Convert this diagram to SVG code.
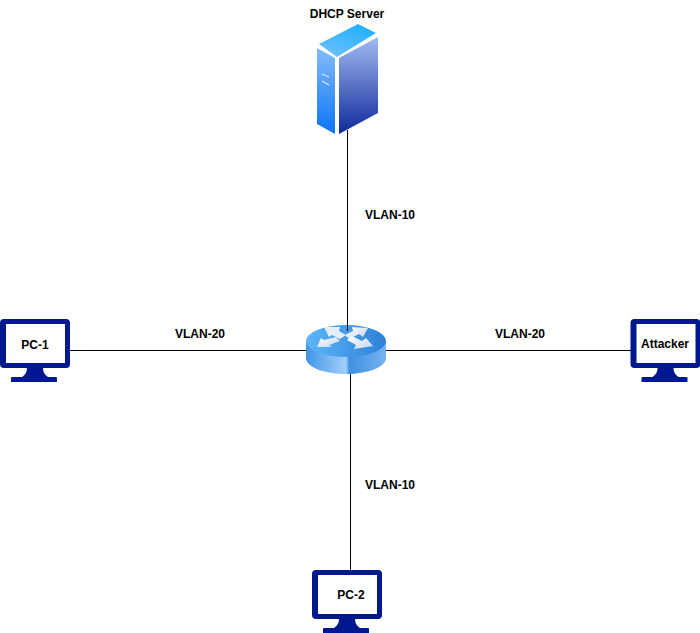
<svg xmlns="http://www.w3.org/2000/svg" width="700" height="633" viewBox="0 0 700 633">
<style>
text{font-family:"Liberation Sans",Arial,sans-serif;font-size:12px;font-weight:bold;fill:#000;text-anchor:middle}
.c{stroke:#000;stroke-width:1;fill:none}
.m{fill:#00188f;fill-rule:evenodd}
</style>
<defs>
<linearGradient id="sl" x1="0" y1="0" x2="0" y2="1"><stop offset="0" stop-color="#85bcfb"/><stop offset="1" stop-color="#0a74f8"/></linearGradient>
<linearGradient id="sr" x1="0" y1="0" x2="0" y2="1"><stop offset="0" stop-color="#a3baf2"/><stop offset="1" stop-color="#0f2a9a"/></linearGradient>
<linearGradient id="st" x1="0.8" y1="0" x2="0.2" y2="1"><stop offset="0" stop-color="#1fb0ff"/><stop offset="1" stop-color="#6cc0fb"/></linearGradient>
<linearGradient id="rs" x1="0" y1="0" x2="1" y2="0"><stop offset="0" stop-color="#3f95e6"/><stop offset="0.5" stop-color="#a2cffb"/><stop offset="0.54" stop-color="#3f8fe2"/><stop offset="1" stop-color="#74b4ef"/></linearGradient>
<linearGradient id="rt" x1="0" y1="0" x2="1" y2="0"><stop offset="0" stop-color="#5db6f7"/><stop offset="1" stop-color="#2f80d8"/></linearGradient>
<linearGradient id="ra" x1="0" y1="0" x2="1" y2="1"><stop offset="0" stop-color="#ffffff"/><stop offset="1" stop-color="#c4d4f2"/></linearGradient>
<path id="mon" class="m" d="M4 0H66Q70 0 70 4V45Q70 49 66 49H43Q43 55 48 58H56Q57 58 57 59V63H11V59Q11 58 12 58H22Q27 55 27 49H4Q0 49 0 45V4Q0 0 4 0ZM6 5V44H65V5Z"/>
</defs>
<g id="connectors">
<path class="c" d="M347.500 130V331"/>
<path class="c" d="M70 350.500H306"/>
<path class="c" d="M385 350.500H631"/>
<path class="c" d="M350.500 372V571"/>
</g>
<g id="server">
<polygon points="358,24 376,33 337,57 319,44" fill="url(#st)"/>
<polygon points="317,48 335,58 335,134 317,124" fill="url(#sl)"/>
<polygon points="339,58 378,37 378,113 339,134" fill="url(#sr)"/>
<path d="M322 74l7 3M322 81l7 4" stroke="#d6e8fd" stroke-width="1.200" fill="none"/>
<text x="347" y="18">DHCP Server</text>
</g>
<g id="router">
<path d="M306 341V358C306 367 324 374 346 374S386 367 386 358V341Z" fill="url(#rs)"/>
<ellipse cx="346" cy="341" rx="40" ry="16" fill="url(#rt)"/>
<polygon points="324,327 340,327 339,331 346,335 340,339 332,335 329,337" fill="#e6eefb"/>
<polygon points="368,328 352,327 353,331 345,335 349,339 359,334 363,337" fill="url(#ra)"/>
<polygon points="317,347 321,338 324,340 336,337 340,341 329,345 332,347" fill="url(#ra)"/>
<polygon points="373,346 354,349 356,345 347,340 352,336 362,341 366,338" fill="url(#ra)"/>
<path class="c" d="M347.500 325V331"/>
</g>
<g id="pc1"><use href="#mon" x="0" y="319"/><text x="35" y="349">PC-1</text></g>
<g id="attacker"><use href="#mon" x="630.500" y="319"/><text x="665" y="348">Attacker</text></g>
<g id="pc2"><use href="#mon" x="312" y="570"/><text x="351" y="599">PC-2</text></g>
<g id="labels">
<text x="390" y="219">VLAN-10</text>
<text x="200" y="338">VLAN-20</text>
<text x="520" y="338">VLAN-20</text>
<text x="390" y="489">VLAN-10</text>
</g>
</svg>
